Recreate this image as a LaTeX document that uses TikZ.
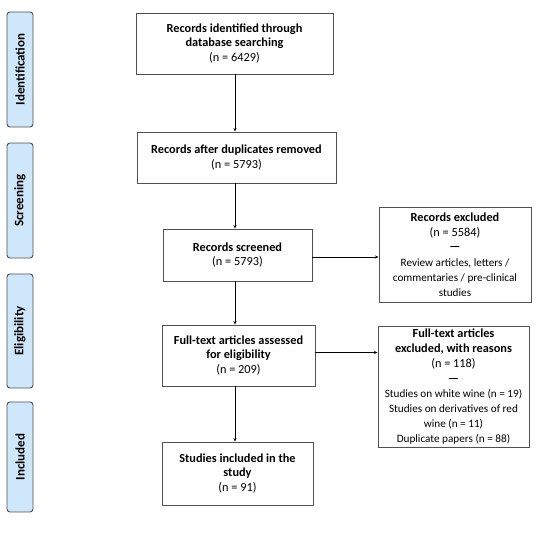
\documentclass[tikz,border=0pt]{standalone}
\usepackage{fontspec}
\setmainfont{Carlito}
\usetikzlibrary{arrows.meta}
\definecolor{phasefill}{RGB}{207,231,250}
\definecolor{boxline}{RGB}{80,80,80}
\tikzset{
  flowbox/.style={draw=boxline,line width=0.9pt,align=center,inner sep=2pt,
    font=\fontsize{12.3}{14.8}\selectfont},
  sidebox/.style={draw=boxline,line width=0.9pt,fill=phasefill,rounded corners=3pt,
    rotate=90,font=\fontsize{13}{15}\selectfont\bfseries,inner sep=0pt},
  flowarrow/.style={-{Stealth[length=3.5pt,width=3pt]},line width=0.7pt}
}
\newcommand{\smalltxt}{\fontsize{11.2}{13.2}\selectfont}
\begin{document}
\begin{tikzpicture}[x=1pt,y=1pt]
\useasboundingbox (0,0) rectangle (537,550);
\node[sidebox,minimum width=115,minimum height=26] (ident) at (20,480.5) {Identification};
\node[sidebox,minimum width=115,minimum height=26] (screen) at (20,349.5) {Screening};
\node[sidebox,minimum width=114,minimum height=26] (elig) at (20,219) {Eligibility};
\node[sidebox,minimum width=110,minimum height=26] (incl) at (20,93) {Included};
\node[flowbox,minimum width=197,minimum height=61] (found) at (234.5,506.5)
  {\textbf{Records identified through}\\\textbf{database searching}\\(n = 6429)};
\node[flowbox,minimum width=199,minimum height=51] (dedup) at (236.5,392.5)
  {\textbf{Records after duplicates removed}\\(n = 5793)};
\node[flowbox,minimum width=149,minimum height=52] (screened) at (237.5,295)
  {\textbf{Records screened}\\(n = 5793)};
\node[flowbox,minimum width=153,minimum height=61] (fulltext) at (238.5,194.5)
  {\textbf{Full-text articles assessed}\\\textbf{for eligibility}\\(n = 209)};
\node[flowbox,minimum width=151,minimum height=63] (final) at (237.5,76.5)
  {\textbf{Studies included in the}\\\textbf{study}\\(n = 91)};
\node[flowbox,minimum width=152,minimum height=95] (excl) at (455,295.5)
  {\textbf{Records excluded}\\(n = 5584)\\\textbf{—}\\[1pt]
   {\smalltxt Review articles, letters /}\\
   {\smalltxt commentaries / pre-clinical}\\
   {\smalltxt studies}};
\node[flowbox,minimum width=151,minimum height=121] (reasons) at (453.5,163.5)
  {\textbf{Full-text articles}\\\textbf{excluded, with reasons}\\(n = 118)\\\textbf{—}\\[1pt]
   {\smalltxt Studies on white wine (n = 19)}\\
   {\smalltxt Studies on derivatives of red}\\
   {\smalltxt wine (n = 11)}\\
   {\smalltxt Duplicate papers (n = 88)}};
\coordinate (spine) at (235,0);
\draw[flowarrow] (found.south -| spine) -- (dedup.north -| spine);
\draw[flowarrow] (dedup.south -| spine) -- (screened.north -| spine);
\draw[flowarrow] (screened.south -| spine) -- (fulltext.north -| spine);
\draw[flowarrow] (fulltext.south -| spine) -- (final.north -| spine);
\draw[flowarrow] ([yshift=-2pt]screened.east) -- ([yshift=-2pt]screened.east -| excl.west);
\draw[flowarrow] ([yshift=3pt]fulltext.east) -- ([yshift=3pt]fulltext.east -| reasons.west);
\end{tikzpicture}
\end{document}
